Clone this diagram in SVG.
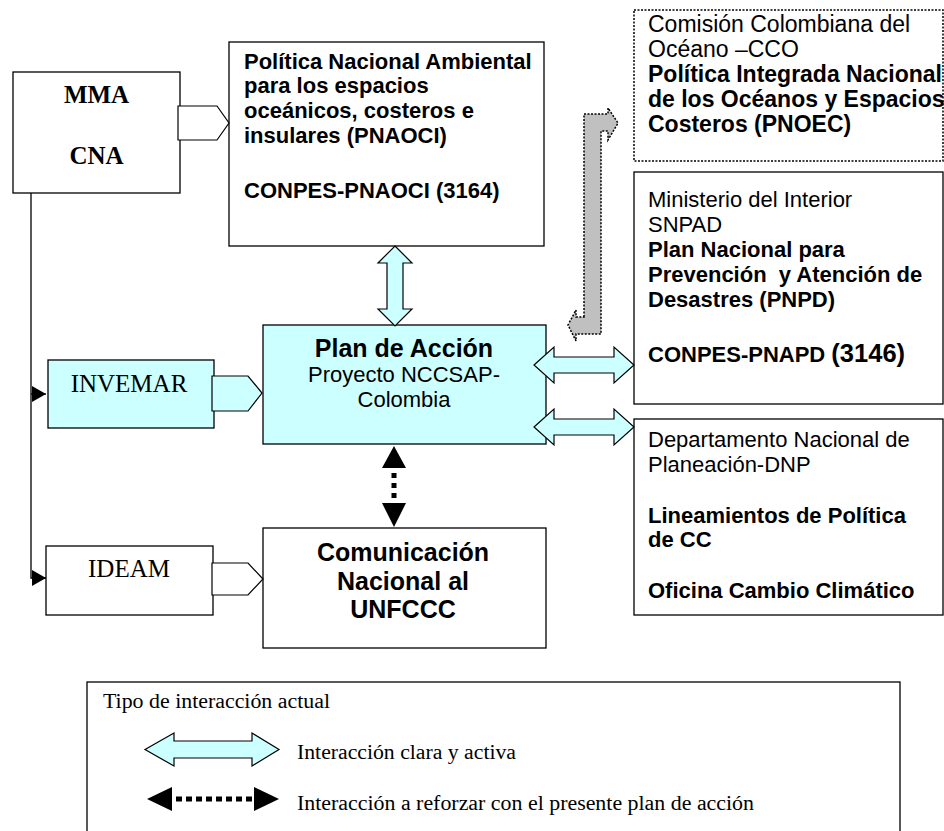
<svg xmlns="http://www.w3.org/2000/svg" width="944" height="831" viewBox="0 0 944 831">
<style>
.box{fill:#fff;stroke:#000;stroke-width:1.3}
.cy{fill:#ccffff}
.dot{fill:#fff;stroke:#000;stroke-width:1.5;stroke-dasharray:2 1.5}
.ar{font-family:"Liberation Sans",Arial,sans-serif;font-size:22px;fill:#000}
.ar23{font-size:23px}
.ar25{font-size:25px}
.b{font-weight:bold}
.pre{white-space:pre}
.tm{font-family:"Liberation Serif","Times New Roman",serif;fill:#000;font-size:25px}
.lg{font-size:20px}
.dbl{fill:#ccffff;stroke:#000;stroke-width:1.2}
.notch{stroke:#000;stroke-width:1.2}
.ln{fill:none;stroke:#000;stroke-width:1.3}
.dash{fill:none;stroke:#000;stroke-width:5;stroke-dasharray:5 5}
.gray{fill:#c0c0c0;stroke:#000;stroke-width:1.5;stroke-dasharray:2 1.5}
</style>
<defs>
<marker id="tri" markerWidth="14" markerHeight="16" refX="14" refY="8" orient="auto" markerUnits="userSpaceOnUse">
<path d="M0,0 L14,8 L0,16 Z" fill="#000"/>
</marker>
</defs>

<g id="mma">
<rect class="box" x="13" y="72" width="167" height="121"/>
<text class="tm b" x="96.5" y="103" text-anchor="middle">MMA</text>
<text class="tm b" x="96.5" y="164" text-anchor="middle">CNA</text>
</g>

<g id="pnaoci">
<rect class="box" x="229" y="42" width="315" height="204"/>
<text class="ar b" x="244" y="69">Política Nacional Ambiental</text>
<text class="ar b" x="244" y="93">para los espacios</text>
<text class="ar b" x="244" y="118">oceánicos, costeros e</text>
<text class="ar b" x="244" y="143">insulares (PNAOCI)</text>
<text class="ar b" x="244" y="198">CONPES-PNAOCI (3164)</text>
</g>

<g id="cco">
<rect class="dot" x="634" y="10" width="309" height="151"/>
<text class="ar ar23" x="648" y="32">Comisión Colombiana del</text>
<text class="ar ar23" x="648" y="57">Océano –CCO</text>
<text class="ar ar23 b" x="648" y="82">Política Integrada Nacional</text>
<text class="ar ar23 b" x="648" y="107">de los Océanos y Espacios</text>
<text class="ar ar23 b" x="648" y="132">Costeros (PNOEC)</text>
</g>

<g id="snpad">
<rect class="box" x="634" y="172" width="309" height="232"/>
<text class="ar" x="648" y="207">Ministerio del Interior</text>
<text class="ar" x="648" y="232">SNPAD</text>
<text class="ar b" x="648" y="257">Plan Nacional para</text>
<text class="ar b pre" x="648" y="282">Prevención  y Atención de</text>
<text class="ar b" x="648" y="307">Desastres (PNPD)</text>
<text class="ar b" x="648" y="362">CONPES-PNAPD <tspan style="font-size:25.5px">(3146)</tspan></text>
</g>

<g id="dnp">
<rect class="box" x="634" y="419" width="309" height="196"/>
<text class="ar" x="648" y="447">Departamento Nacional de</text>
<text class="ar" x="648" y="472">Planeación-DNP</text>
<text class="ar b" x="648" y="523">Lineamientos de Política</text>
<text class="ar b" x="648" y="547">de CC</text>
<text class="ar b" x="648" y="598">Oficina Cambio Climático</text>
</g>

<g id="plan">
<rect class="box cy" x="263" y="325" width="283" height="119"/>
<text class="ar ar25 b" x="404" y="357" text-anchor="middle">Plan de Acción</text>
<text class="ar" x="404" y="382" text-anchor="middle">Proyecto NCCSAP-</text>
<text class="ar" x="404" y="407" text-anchor="middle">Colombia</text>
</g>

<g id="invemar">
<rect class="box cy" x="48" y="360" width="166" height="68"/>
<text class="tm" x="129" y="392" text-anchor="middle">INVEMAR</text>
</g>

<g id="ideam">
<rect class="box" x="46" y="546" width="167" height="69"/>
<text class="tm" x="129" y="577" text-anchor="middle">IDEAM</text>
</g>

<g id="comunicacion">
<rect class="box" x="263" y="528" width="283" height="120"/>
<text class="ar ar25 b" x="403" y="561" text-anchor="middle">Comunicación</text>
<text class="ar ar25 b" x="403" y="590" text-anchor="middle">Nacional al</text>
<text class="ar ar25 b" x="403" y="618" text-anchor="middle">UNFCCC</text>
</g>

<g id="connectors">
<polygon class="notch" fill="#fff" points="178,106 217,106 229,123 217,140 178,140"/>
<polygon class="notch cy" points="212,376 248,376 262,393 248,411 212,411"/>
<polygon class="notch" fill="#fff" points="212,563 248,563 263,579 248,595 212,595"/>
<path class="ln" d="M31,193 V578 H46" marker-end="url(#tri)"/>
<path class="ln" d="M31,394 H46" marker-end="url(#tri)"/>
<path class="dbl" d="M395,246 L412,263 L403,263 L403,309 L412,309 L395,326 L378,309 L387,309 L387,263 L378,263 Z"/>
<path class="dbl" d="M534,365 L554,347 L554,357 L614,357 L614,347 L634,365 L614,383 L614,373 L554,373 L554,383 Z"/>
<path class="dbl" d="M534,427 L554,409 L554,419 L614,419 L614,409 L634,427 L614,445 L614,435 L554,435 L554,445 Z"/>
<path class="gray" d="M584,317 L584,114 L608,114 L608,108 L618,123 L608,140 L608,131 L601,131 L601,334 L576,334 L576,341 L568,325 L576,310 L576,317 Z"/>
<polygon points="394,446 406,468 382,468" fill="#000"/>
<line class="dash" x1="394" y1="473" x2="394" y2="503"/>
<polygon points="394,527 406,503 382,503" fill="#000"/>
</g>

<g id="legend">
<rect class="box" x="87" y="682" width="813" height="200"/>
<text class="tm lg" x="103" y="708" textLength="227" lengthAdjust="spacingAndGlyphs">Tipo de interacción actual</text>
<path class="dbl" d="M145,749.5 L174,733 L174,741 L252,741 L252,733 L279,749.5 L252,766 L252,758 L174,758 L174,766 Z"/>
<text class="tm lg" x="297" y="759" textLength="219" lengthAdjust="spacingAndGlyphs">Interacción clara y activa</text>
<polygon points="147,799 172,787 172,811" fill="#000"/>
<line class="dash" x1="176" y1="799" x2="252" y2="799" style="stroke-dasharray:6 4"/>
<polygon points="279,799 254,787 254,811" fill="#000"/>
<text class="tm lg" x="297" y="810" textLength="457" lengthAdjust="spacingAndGlyphs">Interacción a reforzar con el presente plan de acción</text>
</g>
</svg>
